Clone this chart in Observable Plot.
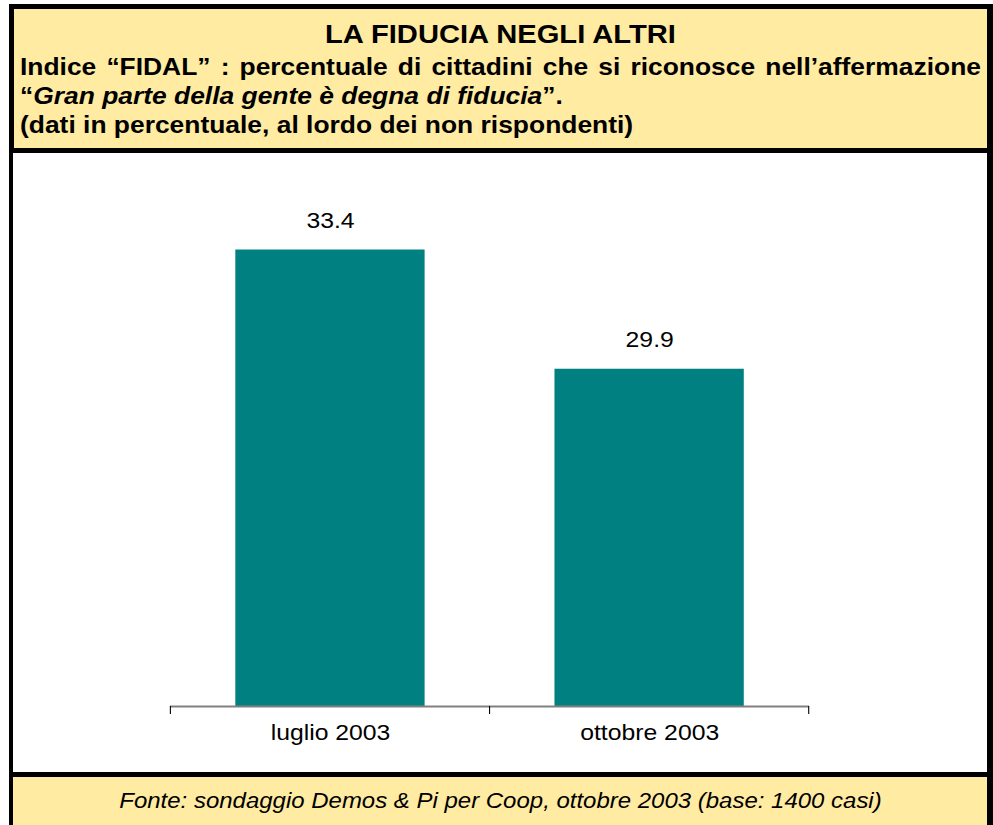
<!DOCTYPE html>
<html><head><meta charset="utf-8">
<script src="https://cdn.jsdelivr.net/npm/d3@7"></script>
<script src="https://cdn.jsdelivr.net/npm/@observablehq/plot@0.6"></script>
<style>
body{margin:0;background:#fff;font-family:"Liberation Sans",Arial,sans-serif;}
#page{position:relative;width:993px;height:825px;overflow:hidden;}
.box{position:absolute;box-sizing:border-box;border:0 solid #000;}
.t{position:absolute;line-height:1;color:#000;}
</style></head><body>
<div id="page">
  <div class="box" style="left:9px;top:4px;width:984px;height:149px;border-width:5px 6px 5px 5px;background:#FFEBA2;"></div>
  <div class="box" style="left:9px;top:153px;width:984px;height:624px;border-width:0 6px 5px 4px;background:#fff;"></div>
  <div class="box" style="left:9px;top:777px;width:984px;height:48px;border-width:0 6px 0 4px;background:#FFEBA2;"></div>
  <div class="t" id="title" style="left:14px;width:973px;top:20.5px;font-size:26.5px;font-weight:bold;text-align:center;white-space:nowrap;transform:scaleX(1.1);transform-origin:50% 0;"></div>
  <div class="t" id="sub1" style="left:20px;width:873.6px;top:54.5px;font-size:24px;font-weight:bold;text-align:justify;text-align-last:justify;transform:scaleX(1.1);transform-origin:0 0;"></div>
  <div class="t" id="sub2" style="left:20px;top:84px;font-size:24px;font-weight:bold;white-space:nowrap;transform:scaleX(1.1);transform-origin:0 0;"></div>
  <div class="t" id="sub3" style="left:20px;top:113px;font-size:24px;font-weight:bold;white-space:nowrap;transform:scaleX(1.1);transform-origin:0 0;"></div>
  <div class="t" id="foot" style="left:14px;width:973px;top:789.5px;font-size:21.8px;font-style:italic;text-align:center;white-space:nowrap;transform:scaleX(1.1);transform-origin:50% 0;"></div>
</div>
<script>
const titleText = "LA FIDUCIA NEGLI ALTRI";
const subtitleLine1 = "Indice “FIDAL” : percentuale di cittadini che si riconosce nell’affermazione";
const subtitleQuote = "Gran parte della gente è degna di fiducia";
const subtitleLine3 = "(dati in percentuale, al lordo dei non rispondenti)";
const footText = "Fonte: sondaggio Demos & Pi per Coop, ottobre 2003 (base: 1400 casi)";

const periods = ["luglio 2003", "ottobre 2003"];
const values = [33.4, 29.9];
const yDomain = [20, 35];

document.getElementById("title").textContent = titleText;
document.getElementById("sub1").textContent = subtitleLine1;
const s2 = document.getElementById("sub2");
s2.append("“");
const it = document.createElement("i"); it.textContent = subtitleQuote; s2.append(it);
s2.append("”.");
document.getElementById("sub3").textContent = subtitleLine3;
document.getElementById("foot").textContent = footText;

const data = periods.map((p, i) => ({period: p, value: values[i]}));
const W = 885, S = 974 / 885;

const plot = Plot.plot({
  width: W, height: 619,
  marginLeft: 142.65, marginRight: 161.8, marginTop: 42, marginBottom: 66,
  style: {background: "transparent", fontFamily: "Liberation Sans, Arial, sans-serif", color: "#000"},
  x: {domain: periods, paddingInner: 0.408, paddingOuter: 0.204, label: null},
  y: {domain: yDomain, axis: null},
  marks: [
    Plot.barY(data, {x: "period", y1: yDomain[0], y2: "value", fill: "#008080"}),
    Plot.ruleY([yDomain[0]], {stroke: "#808080", strokeWidth: 2}),
    Plot.text(data, {x: "period", y: "value", text: d => d.value.toFixed(1), lineAnchor: "bottom", dy: -22, fontSize: 22.5, fill: "#000"}),
    Plot.axisX({tickSize: 0, tickPadding: 18, fontSize: 22.5, label: null})
  ]
});

const xs = plot.scale("x");
const step = xs.step ?? xs.bandwidth / (1 - xs.paddingInner);
const gap = step - xs.bandwidth;
const edges = periods.map(p => xs.apply(p) - gap / 2)
  .concat([xs.apply(periods[periods.length - 1]) + xs.bandwidth + gap / 2]);
const y0 = plot.scale("y").apply(yDomain[0]);
d3.select(plot).append("g").selectAll("line").data(edges).join("line")
  .attr("x1", d => d).attr("x2", d => d)
  .attr("y1", y0).attr("y2", y0 + 8)
  .attr("stroke", "#000").attr("stroke-width", 1);

plot.style.position = "absolute";
plot.style.left = "13px";
plot.style.top = "153px";
plot.style.transform = `scaleX(${S})`;
plot.style.transformOrigin = "0 0";
document.getElementById("page").appendChild(plot);
</script>
</body></html>
